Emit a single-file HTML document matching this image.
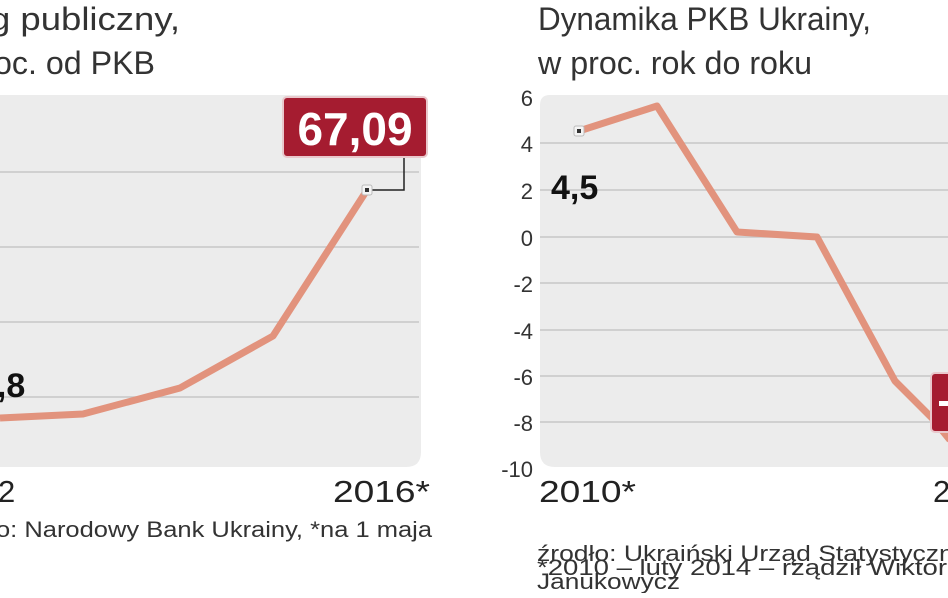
<!DOCTYPE html>
<html><head><meta charset="utf-8"><style>
body{margin:0;width:948px;height:593px;overflow:hidden;background:#fff;font-family:"Liberation Sans",sans-serif;}
</style></head><body>
<svg width="948" height="593" viewBox="0 0 948 593" xmlns="http://www.w3.org/2000/svg" font-family="Liberation Sans, sans-serif">
<rect x="0" y="0" width="948" height="593" fill="#fff"/>
<path d="M-10 95 H411 Q421 95 421 105 V452 Q421 467 406 467 H-10 Z" fill="#ececec"/>
<g stroke="#c6c6c6" stroke-width="1.5">
<line x1="0" y1="172" x2="419" y2="172"/>
<line x1="0" y1="247" x2="419" y2="247"/>
<line x1="0" y1="322" x2="419" y2="322"/>
<line x1="0" y1="397" x2="419" y2="397"/>
</g>
<text x="-10" y="30" font-size="32" fill="#333" textLength="190" lengthAdjust="spacingAndGlyphs">g publiczny,</text>
<text x="-6" y="74" font-size="32" fill="#333" textLength="161" lengthAdjust="spacingAndGlyphs">oc. od PKB</text>
<polyline points="0,418 83,414 180,388 273,336 367,190" fill="none" stroke="#e2937d" stroke-width="7" stroke-linejoin="round"/>
<text x="-22" y="397" font-size="34" font-weight="bold" fill="#111" font-family="Liberation Sans Narrow, Liberation Sans, sans-serif">4,8</text>
<polyline points="371,190 404,190 404,158" fill="none" stroke="#222" stroke-width="1.5"/>
<rect x="362" y="185" width="10" height="10" rx="2" fill="#f4f4f4" stroke="#bbb"/>
<rect x="365" y="188" width="4" height="4" fill="#333"/>
<rect x="283" y="97" width="144" height="60" rx="4" fill="#a51c30" stroke="#e9c8cc" stroke-width="2"/>
<text x="355" y="145" font-size="46" font-weight="bold" fill="#fff" text-anchor="middle" font-family="Liberation Sans Narrow, Liberation Sans, sans-serif">67,09</text>
<text x="-2" y="502" font-size="31" fill="#222">2</text>
<text x="333" y="502" font-size="31" fill="#222" textLength="97" lengthAdjust="spacingAndGlyphs">2016*</text>
<text x="-4" y="537" font-size="22" fill="#333" textLength="436" lengthAdjust="spacingAndGlyphs">o: Narodowy Bank Ukrainy, *na 1 maja</text>
<path d="M550 95 H960 V467 H555 Q540 467 540 452 V105 Q540 95 550 95 Z" fill="#ececec"/>
<g stroke="#c6c6c6" stroke-width="1.5">
<line x1="540" y1="143" x2="948" y2="143"/>
<line x1="540" y1="190" x2="948" y2="190"/>
<line x1="540" y1="237" x2="948" y2="237"/>
<line x1="540" y1="283" x2="948" y2="283"/>
<line x1="540" y1="330" x2="948" y2="330"/>
<line x1="540" y1="376" x2="948" y2="376"/>
<line x1="540" y1="422" x2="948" y2="422"/>
</g>
<text x="538" y="30" font-size="32" fill="#333" textLength="333" lengthAdjust="spacingAndGlyphs">Dynamika PKB Ukrainy,</text>
<text x="538" y="74" font-size="32" fill="#333" textLength="274" lengthAdjust="spacingAndGlyphs">w proc. rok do roku</text>
<g font-size="22" fill="#333" text-anchor="end">
<text x="533" y="106">6</text>
<text x="533" y="152">4</text>
<text x="533" y="199">2</text>
<text x="533" y="246">0</text>
<text x="533" y="292">-2</text>
<text x="533" y="339">-4</text>
<text x="533" y="385">-6</text>
<text x="533" y="431">-8</text>
<text x="533" y="477">-10</text>
</g>
<polyline points="579,131 657,106 737,232 817,237 895,381 932,418 950,440" fill="none" stroke="#e2937d" stroke-width="7" stroke-linejoin="round"/>
<rect x="574" y="126" width="10" height="10" rx="2" fill="#f4f4f4" stroke="#bbb"/>
<rect x="577" y="129" width="4" height="4" fill="#333"/>
<text x="551" y="199" font-size="34" font-weight="bold" fill="#111" font-family="Liberation Sans Narrow, Liberation Sans, sans-serif">4,5</text>
<rect x="931" y="373" width="40" height="59" rx="4" fill="#a51c30" stroke="#e9c8cc" stroke-width="2"/>
<rect x="939" y="401" width="12" height="5" fill="#fff"/>
<text x="539" y="502" font-size="31" fill="#222" textLength="97" lengthAdjust="spacingAndGlyphs">2010*</text>
<text x="933" y="502" font-size="31" fill="#222">2</text>
<g font-size="22" fill="#333">
<text x="537" y="561" textLength="430" lengthAdjust="spacingAndGlyphs">źrodło: Ukraiński Urząd Statystyczny</text>
<text x="537" y="575" textLength="410" lengthAdjust="spacingAndGlyphs">*2010 – luty 2014 – rządził Wiktor</text>
<text x="537" y="589" textLength="143" lengthAdjust="spacingAndGlyphs">Janukowycz</text>
</g>
</svg>
</body></html>
